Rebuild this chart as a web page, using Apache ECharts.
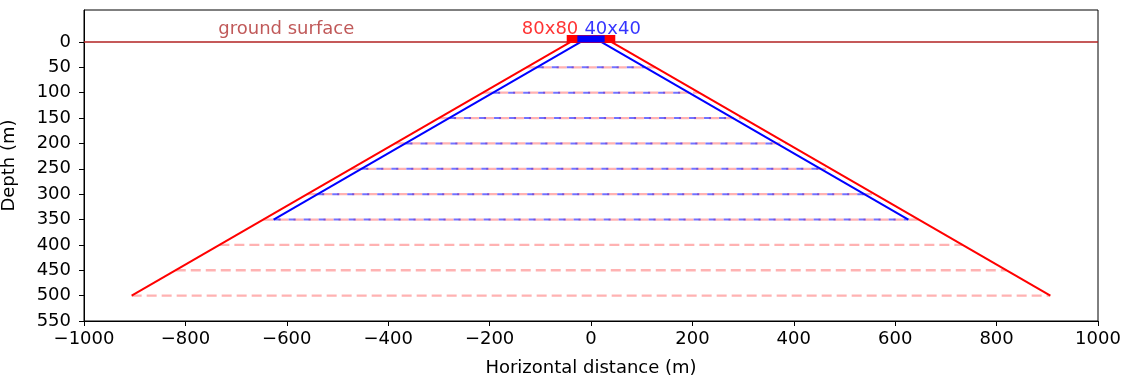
<!DOCTYPE html>
<html>
<head>
<meta charset="utf-8">
<script src="https://cdn.jsdelivr.net/npm/echarts@6/dist/echarts.min.js"></script>
<style>html,body{margin:0;padding:0;background:#fff}#c{width:1130px;height:378px}</style>
</head>
<body>
<div id="c"></div>
<script>
// ---- data ----
const xTicks = [-1000, -800, -600, -400, -200, 0, 200, 400, 600, 800, 1000];
const yTicks = [0, 50, 100, 150, 200, 250, 300, 350, 400, 450, 500, 550];
// outer (80x80) cone: depth and half-width at each level
const redDepths = [0, 50, 100, 150, 200, 250, 300, 350, 400, 450, 500];
const redHalfWidths = [40, 127, 213, 300, 386, 473, 560, 646, 733, 819, 906];
// inner (40x40) cone
const blueDepths = [0, 50, 100, 150, 200, 250, 300, 350];
const blueHalfWidths = [20, 107, 193, 280, 366, 453, 540, 626];
// source blocks
const redBlock = { xs: [-40, 40], depth: -6 };
const blueBlock = { xs: [-20, 20], depth: -6 };
const groundDepth = 0;
const labels = [
  { text: 'ground surface', x: -601, y: -24, color: '#b03030', align: 'center' },
  { text: '80x80', x: -25, y: -25, color: '#ff0000', align: 'right' },
  { text: '40x40', x: -13, y: -25, color: '#0000ff', align: 'left' }
];

const FONT = 'DejaVu Sans';
const FS = 18;
const series = [];

// ground surface
series.push({
  type: 'line', data: [[xTicks[0], groundDepth], [xTicks[xTicks.length - 1], groundDepth]],
  symbol: 'none', lineStyle: { color: 'rgba(178,34,34,0.75)', width: 2 }, silent: true, z: 1
});
// red dashed layers
redDepths.forEach((d, i) => {
  if (i === 0) return;
  series.push({
    type: 'line', data: [[-redHalfWidths[i], d], [redHalfWidths[i], d]], symbol: 'none',
    lineStyle: { color: 'rgba(255,0,0,0.3)', width: 2.3, type: [10, 5] }, silent: true, z: 2
  });
});
// blue dashed layers
blueDepths.forEach((d, i) => {
  if (i === 0) return;
  series.push({
    type: 'line', data: [[-blueHalfWidths[i], d], [blueHalfWidths[i], d]], symbol: 'none',
    lineStyle: { color: 'rgba(0,0,255,0.55)', width: 2, type: [7, 8] }, silent: true, z: 3
  });
});
// red cone edges
const rl = redDepths.length - 1;
series.push({ type: 'line', data: [[-redHalfWidths[0], redDepths[0]], [-redHalfWidths[rl], redDepths[rl]]], symbol: 'none', lineStyle: { color: '#ff0000', width: 2 }, silent: true, z: 4 });
series.push({ type: 'line', data: [[redHalfWidths[0], redDepths[0]], [redHalfWidths[rl], redDepths[rl]]], symbol: 'none', lineStyle: { color: '#ff0000', width: 2 }, silent: true, z: 4 });
// blue cone edges
const bl = blueDepths.length - 1;
series.push({ type: 'line', data: [[-blueHalfWidths[0], blueDepths[0]], [-blueHalfWidths[bl], blueDepths[bl]]], symbol: 'none', lineStyle: { color: '#0000ff', width: 2 }, silent: true, z: 5 });
series.push({ type: 'line', data: [[blueHalfWidths[0], blueDepths[0]], [blueHalfWidths[bl], blueDepths[bl]]], symbol: 'none', lineStyle: { color: '#0000ff', width: 2 }, silent: true, z: 5 });
// blocks
series.push({ type: 'line', data: redBlock.xs.map(x => [x, redBlock.depth]), symbol: 'none', lineStyle: { color: '#ff0000', width: 8, cap: 'square' }, silent: true, z: 6 });
series.push({ type: 'line', data: blueBlock.xs.map(x => [x, blueBlock.depth]), symbol: 'none', lineStyle: { color: '#0000ff', width: 7, cap: 'square' }, silent: true, z: 7 });
// text labels
labels.forEach(l => {
  series.push({
    type: 'scatter', data: [[l.x, l.y]], symbolSize: 0, silent: true, z: 8,
    label: { show: true, position: 'inside', formatter: l.text, color: l.color, fontFamily: FONT, fontSize: FS, align: l.align, verticalAlign: 'middle' }
  });
});

const chart = echarts.init(document.getElementById('c'), null, { renderer: 'canvas' });
chart.setOption({
  animation: false,
  grid: { left: 84, right: 32, top: 10, bottom: 57, show: true, borderColor: '#000', borderWidth: 1, containLabel: false, outerBoundsMode: 'none' },
  xAxis: {
    type: 'value', min: xTicks[0], max: xTicks[xTicks.length - 1], interval: 200,
    name: 'Horizontal distance (m)', nameLocation: 'middle', nameGap: 38,
    nameTextStyle: { color: '#000', fontFamily: FONT, fontSize: FS },
    axisLine: { show: true, onZero: false, lineStyle: { color: '#000', width: 1 } },
    axisTick: { show: true, length: 5, lineStyle: { color: '#000' } },
    axisLabel: { color: '#000', fontFamily: FONT, fontSize: FS, margin: 9, hideOverlap: false, formatter: v => String(v).replace('-', '\u2212') },
    splitLine: { show: false }
  },
  yAxis: {
    type: 'value', inverse: true, min: -63, max: 550,
    name: 'Depth (m)', nameLocation: 'middle', nameGap: 66, nameRotate: 90,
    nameTextStyle: { color: '#000', fontFamily: FONT, fontSize: FS },
    axisLine: { show: true, onZero: false, lineStyle: { color: '#000', width: 1 } },
    axisTick: { show: true, length: 5, customValues: yTicks, lineStyle: { color: '#000' } },
    axisLabel: { color: '#000', fontFamily: FONT, fontSize: FS, margin: 13, hideOverlap: false, customValues: yTicks },
    splitLine: { show: false }
  },
  series: series
});
</script>
</body>
</html>
